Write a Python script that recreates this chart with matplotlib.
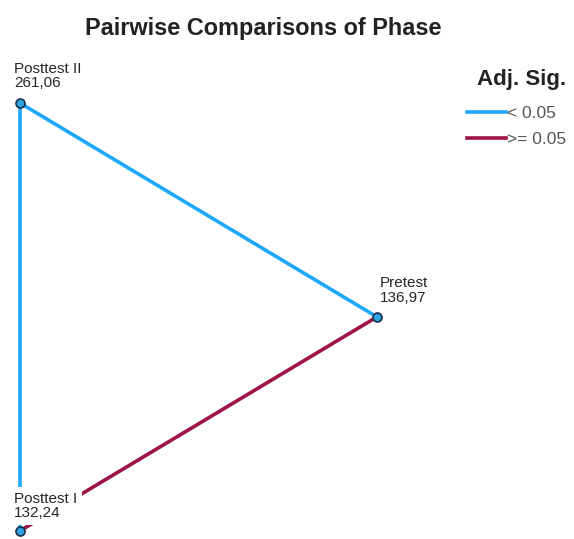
import numpy as np
import matplotlib
matplotlib.use("Agg")
import matplotlib.pyplot as plt
from matplotlib.lines import Line2D

plt.rcParams['font.family'] = ['Liberation Sans', 'DejaVu Sans']

# nodes of the pairwise comparison graph (circle layout order)
phases = ['Pretest', 'Posttest II', 'Posttest I']
mean_ranks = ['136,97', '261,06', '132,24']
angles_deg = [0, 120, 240]

# edges: (from, to, adjusted significance below 0.05?)
edges = [('Posttest II', 'Pretest', True),
         ('Posttest II', 'Posttest I', True),
         ('Pretest', 'Posttest I', False)]

sig_labels = ['< 0.05', '>= 0.05']
blue = '#1FA8FB'
red = '#9E1448'

fig = plt.figure(figsize=(5.74, 5.39), dpi=100)
ax = fig.add_axes([0, 0, 1, 1])
ax.set_xlim(-0.584, 1.828)
ax.set_ylim(-0.899, 1.283)
ax.axis('off')

pos = {}
for name, a in zip(phases, angles_deg):
    r = np.deg2rad(a)
    pos[name] = (np.cos(r), np.sin(r))

for a, b, sig in edges:
    xa, ya = pos[a]
    xb, yb = pos[b]
    ax.plot([xa, xb], [ya, yb], color=blue if sig else red, lw=2.6,
            solid_capstyle='butt', zorder=1)

# label offset (points) and white box padding per node
offsets = {'Pretest': (2, 8.6), 'Posttest II': (-4.3, 9.2), 'Posttest I': (-4.3, 7.5)}
pads = {'Pretest': 0.5, 'Posttest II': 0.5, 'Posttest I': 3.5}
for name, rank in zip(phases, mean_ranks):
    x, y = pos[name]
    ax.plot(x, y, 'o', ms=6.5, mfc='#2BA3E0', mec='#1A2E4A', mew=1.2, zorder=3)
    ax.annotate(name + '\n' + rank, (x, y), xytext=offsets[name],
                textcoords='offset points', ha='left', va='bottom',
                fontsize=11, color='#262626', linespacing=1.05, zorder=2,
                bbox=dict(facecolor='white', edgecolor='none', pad=pads[name]))

fig.text(0.458, 0.948, 'Pairwise Comparisons of Phase', ha='center', va='center',
         fontsize=16.9, fontweight='bold', color='#222222')

# legend
fig.text(0.908, 0.853, 'Adj. Sig.', ha='center', va='center',
         fontsize=16, fontweight='bold', color='#222222')
handles = [Line2D([], [], color=blue, lw=2.6), Line2D([], [], color=red, lw=2.6)]
leg = ax.legend(handles, sig_labels, loc='upper left',
                bbox_to_anchor=(0.786, 0.832), frameon=False, fontsize=12.5,
                handlelength=2.25, handletextpad=0.08, labelspacing=0.6)
for t in leg.get_texts():
    t.set_color('#555555')

fig.savefig('out.png', dpi=100)
